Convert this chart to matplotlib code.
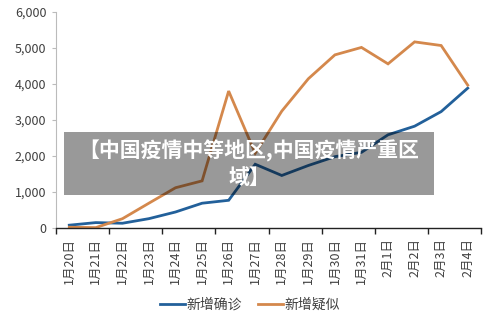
import matplotlib
matplotlib.use("Agg")
import matplotlib.pyplot as plt
from matplotlib.patches import Rectangle

plt.rcParams['font.family'] = ['Noto Sans CJK SC', 'DejaVu Sans']

dates = ["1月20日", "1月21日", "1月22日", "1月23日", "1月24日", "1月25日", "1月26日", "1月27日",
         "1月28日", "1月29日", "1月30日", "1月31日", "2月1日", "2月2日", "2月3日", "2月4日"]
confirmed = [77, 149, 131, 259, 444, 688, 769, 1771, 1459, 1737, 1982, 2102, 2590, 2829, 3235, 3887]
suspected = [20, 10, 257, 690, 1118, 1309, 3806, 2077, 3248, 4148, 4812, 5019, 4562, 5173, 5072, 3971]
yticks = [0, 1000, 2000, 3000, 4000, 5000, 6000]
ytick_labels = ["0", "1,000", "2,000", "3,000", "4,000", "5,000", "6,000"]
series_names = ["新增确诊", "新增疑似"]
overlay_text = "【中国疫情中等地区,中国疫情严重区\n域】"

fig = plt.figure(figsize=(5.0, 3.28), dpi=100)
ax = fig.add_axes([0.112, 0.305, 0.85, 0.658])

x = list(range(len(dates)))
ax.plot(x, confirmed, color="#22609A", lw=2.0, label=series_names[0], solid_joinstyle='miter')
ax.plot(x, suspected, color="#D4884C", lw=2.0, label=series_names[1], solid_joinstyle='miter')

ax.set_xlim(-0.5, len(dates) - 0.5)
ax.set_ylim(0, 6000)
ax.set_yticks(yticks)
ax.set_yticklabels(ytick_labels, fontsize=9, color="#404040")
ax.tick_params(axis='y', length=3, color="#bbbbbb", width=0.8, pad=4)

ax.set_xticks(x)
ax.set_xticklabels(dates, rotation=90, fontsize=9, color="#404040")
ax.tick_params(axis='x', which='major', length=0, pad=7)
ax.set_xticks([i - 0.5 for i in range(0, len(dates) + 1, 2)], minor=True)
ax.tick_params(axis='x', which='minor', length=4, color="#222222", width=1.0)

for s in ['top', 'right']:
    ax.spines[s].set_visible(False)
ax.spines['left'].set_color("#bbbbbb")
ax.spines['left'].set_linewidth(0.8)
ax.spines['bottom'].set_color("#222222")
ax.spines['bottom'].set_linewidth(1.0)

leg = fig.legend(loc='center', bbox_to_anchor=(0.5, 0.072), ncol=2, frameon=False,
                 fontsize=10, handlelength=1.8, handletextpad=0.1, columnspacing=1.2)
for t in leg.get_texts():
    t.set_color("#404040")

# overlay box
box = Rectangle((64 / 500, 1 - 195 / 328), (434 - 64) / 500, (195 - 132) / 328,
                transform=fig.transFigure, facecolor="black", alpha=0.4, edgecolor='none', zorder=10)
fig.patches.append(box)
fig.text(249 / 500, 1 - 164 / 328, overlay_text, ha='center', va='center', color='white',
         fontsize=15, fontweight='bold', linespacing=1.3, zorder=11)

fig.savefig("out.png", dpi=100)
